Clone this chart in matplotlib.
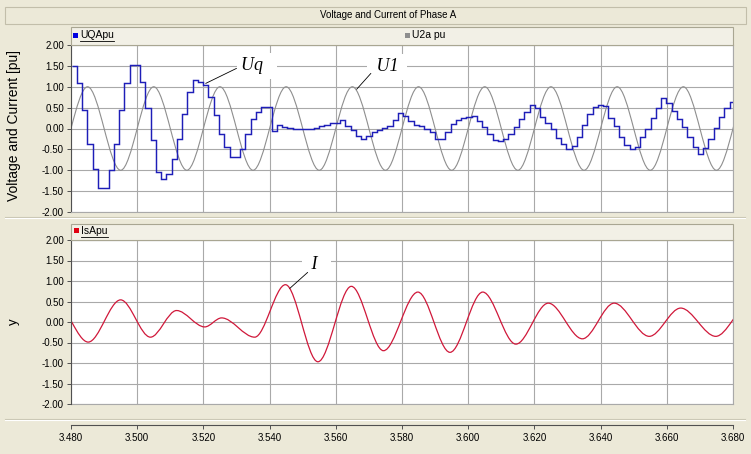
import numpy as np
import matplotlib.pyplot as plt
from matplotlib.path import Path
from matplotlib.patches import PathPatch, Rectangle
from matplotlib.lines import Line2D
from matplotlib.ticker import FormatStrFormatter

plt.rcParams['font.family'] = ['Liberation Sans', 'DejaVu Sans']
plt.rcParams['axes.unicode_minus'] = False

# ---- data ----
# UQApu: sample-and-hold signal, one value per step
uq_t0 = 3.4802
uq_dt = 0.00159
uq_vals = [1.50, 1.10, 0.44, -0.36, -0.98, -1.42, -1.42, -1.00, -0.36, 0.44,
           1.10, 1.52, 1.52, 1.12, 0.48, -0.28, -1.03, -1.22, -1.10, -0.74,
           -0.25, 0.35, 0.87, 1.15, 1.12, 1.04, 0.75, 0.32, -0.13, -0.45,
           -0.69, -0.69, -0.48, -0.13, 0.22, 0.40, 0.52, 0.52, -0.05, 0.08,
           0.04, 0.02, 0.00, -0.01, -0.02, -0.01, 0.01, 0.05, 0.08, 0.12,
           0.13, 0.20, 0.06, -0.04, -0.18, -0.26, -0.17, -0.08, -0.04, 0.01,
           0.06, 0.20, 0.38, 0.30, 0.17, 0.09, 0.05, 0.00, -0.09, -0.24,
           -0.24, -0.08, 0.10, 0.20, 0.25, 0.27, 0.30, 0.18, 0.03, -0.12,
           -0.28, -0.30, -0.24, -0.12, 0.03, 0.22, 0.40, 0.56, 0.48, 0.28,
           0.12, 0.00, -0.22, -0.38, -0.48, -0.42, -0.20, 0.08, 0.35, 0.52,
           0.57, 0.54, 0.25, 0.05, -0.20, -0.40, -0.50, -0.44, -0.20, 0.00,
           0.25, 0.50, 0.72, 0.62, 0.42, 0.22, 0.03, -0.20, -0.44, -0.60,
           -0.46, -0.24, 0.02, 0.28, 0.50, 0.63]

# U2a pu: extrema (time, value) of the 50 Hz reference wave
u2a_ext_t = [3.475, 3.485, 3.495, 3.505, 3.515, 3.525, 3.535, 3.545, 3.555, 3.565, 3.575,
             3.585, 3.595, 3.605, 3.615, 3.625, 3.635, 3.645, 3.655, 3.665, 3.675, 3.685]
u2a_ext_v = [-1.0, 1.0, -1.0, 1.0, -1.0, 1.0, -1.0, 1.0, -1.0, 1.0, -1.0,
             1.0, -1.0, 1.0, -1.0, 1.0, -1.0, 1.0, -1.0, 1.0, -1.0, 1.0]

# IsApu: extrema (time, value) of the current
is_ext_t = [3.4755, 3.4852, 3.4950, 3.5040, 3.5119, 3.5204, 3.5255, 3.5355, 3.5448,
            3.5546, 3.5647, 3.5744, 3.5848, 3.5945, 3.6044, 3.6144, 3.6242, 3.6345,
            3.6441, 3.6547, 3.6642, 3.6748, 3.6845]
is_ext_v = [0.45, -0.49, 0.54, -0.37, 0.28, -0.12, 0.10, -0.37, 0.91,
            -0.97, 0.87, -0.70, 0.73, -0.74, 0.73, -0.54, 0.46, -0.41,
            0.46, -0.35, 0.34, -0.35, 0.38]

x_ticks = [3.48, 3.50, 3.52, 3.54, 3.56, 3.58, 3.60, 3.62, 3.64, 3.66, 3.68]
y_ticks = [-2.0, -1.5, -1.0, -0.5, 0.0, 0.5, 1.0, 1.5, 2.0]

BG = '#ECE9D8'
GRID = '#A9A9A9'
W, H = 751, 454


def fx(x):
    return x / W


def fy(y):
    return 1 - y / H


def smooth_path(ts, vs):
    # cubic pieces with flat tangents at every extremum
    verts = [(ts[0], vs[0])]
    codes = [Path.MOVETO]
    for i in range(len(ts) - 1):
        d = ts[i + 1] - ts[i]
        verts += [(ts[i] + d / 3, vs[i]), (ts[i] + 2 * d / 3, vs[i + 1]), (ts[i + 1], vs[i + 1])]
        codes += [Path.CURVE4] * 3
    return Path(verts, codes)


fig = plt.figure(figsize=(W / 100, H / 100), dpi=100, facecolor=BG)

# title bar
fig.add_artist(Rectangle((fx(5), fy(24)), (746 - 5) / W, 17 / H, transform=fig.transFigure,
                         fc=BG, ec='#C2BEAA', lw=0.8))
fig.text(fx(388), fy(15), 'Voltage and Current of Phase A', ha='center', va='center', fontsize=7)

# panel separators
for yy, c in [(217, '#C9C5B2'), (218, '#FFFFFF'), (419, '#C9C5B2'), (420, '#FFFFFF')]:
    fig.add_artist(Line2D([fx(5), fx(745)], [fy(yy), fy(yy)], transform=fig.transFigure, color=c, lw=0.8))

ax1 = fig.add_axes([fx(71), fy(212), (733 - 71) / W, (212 - 45) / H])
ax2 = fig.add_axes([fx(71), fy(404), (733 - 71) / W, (404 - 240) / H])

for ax in (ax1, ax2):
    ax.set_facecolor('white')
    ax.set_xlim(3.48, 3.68)
    ax.set_ylim(-2, 2)
    ax.set_xticks(x_ticks)
    ax.set_yticks(y_ticks)
    ax.yaxis.set_major_formatter(FormatStrFormatter('%.2f'))
    ax.grid(True, color=GRID, lw=0.8)
    ax.set_axisbelow(True)
    for s in ('top', 'right', 'bottom'):
        ax.spines[s].set_color(GRID)
        ax.spines[s].set_linewidth(0.8)
    ax.spines['left'].set_color('#505050')
    ax.spines['left'].set_linewidth(0.8)
    ax.tick_params(axis='y', length=3, width=0.7, color='#505050', labelsize=7, pad=2)

ax1.tick_params(axis='x', length=0, labelbottom=False)

# bottom axis line sits below the plot frame
ax2.spines['bottom'].set_position(('outward', 15))
ax2.spines['bottom'].set_color('#505050')
ax2.xaxis.set_major_formatter(FormatStrFormatter('%.3f'))
ax2.tick_params(axis='x', length=3, width=0.7, color='#505050', labelsize=7, pad=3)
ax2.add_line(Line2D([0, 1], [0, 0], transform=ax2.transAxes, color=GRID, lw=0.8, clip_on=False))

# curves
ax1.add_patch(PathPatch(smooth_path(u2a_ext_t, u2a_ext_v), fill=False, ec='#8E8E8E', lw=0.8))
uq_edges = uq_t0 + uq_dt * np.arange(len(uq_vals) + 1)
ax1.stairs(uq_vals, uq_edges, baseline=None, color='#1E1EB8', lw=1.05)
ax2.add_patch(PathPatch(smooth_path(is_ext_t, is_ext_v), fill=False, ec='#D0183A', lw=0.9))

# annotations
lab = dict(fontsize=13, family='Liberation Serif', style='italic', va='center', ha='left',
           bbox=dict(boxstyle='square,pad=0.25', fc='white', ec='none'), zorder=5)
lead = dict(arrowstyle='-', color='black', lw=0.6, shrinkA=0, shrinkB=0)
ax1.text(3.5314, 1.50, 'Uq  ', **lab)
ax1.annotate('', xy=(3.5207, 1.08), xytext=(3.5300, 1.44), arrowprops=lead, zorder=6)
ax1.text(3.5708, 1.48, ' U1 ', **lab)
ax1.annotate('', xy=(3.5663, 0.94), xytext=(3.5706, 1.32), arrowprops=lead, zorder=6)
ax2.text(3.5512, 1.41, ' I  ', **lab)
ax2.annotate('', xy=(3.5461, 0.82), xytext=(3.5515, 1.21), arrowprops=lead, zorder=6)

# y labels
fig.text(fx(14), fy(126), 'Voltage and Current [pu]', rotation=90, ha='center', va='center', fontsize=10)
fig.text(fx(14), fy(322), 'y', rotation=90, ha='center', va='center', fontsize=9.5)

# legend bars
for y0, y1 in [(27, 45), (224, 240)]:
    fig.add_artist(Rectangle((fx(71), fy(y1)), (733 - 71) / W, (y1 - y0) / H, transform=fig.transFigure,
                             fc='#F2F0E6', ec='#A9A692', lw=0.8))

renderer = fig.canvas.get_renderer()


def legend_item(x, y, color, name, underline):
    fig.add_artist(Rectangle((fx(x), fy(y + 2.5)), 5 / W, 5 / H, transform=fig.transFigure,
                             fc=color, ec='none'))
    t = fig.text(fx(x + 7), fy(y), name, ha='left', va='center', fontsize=7.5)
    if underline:
        bb = t.get_window_extent(renderer)
        fig.add_artist(Line2D([bb.x0 / W, bb.x1 / W], [fy(y + 5.5), fy(y + 5.5)],
                              transform=fig.transFigure, color='black', lw=0.6))


legend_item(73, 35, '#0000E0', 'UQApu', True)
legend_item(405, 35, '#8E8E8E', 'U2a pu', False)
legend_item(74, 231, '#E00010', 'IsApu', True)

fig.savefig('out.png', dpi=100, facecolor=BG)
